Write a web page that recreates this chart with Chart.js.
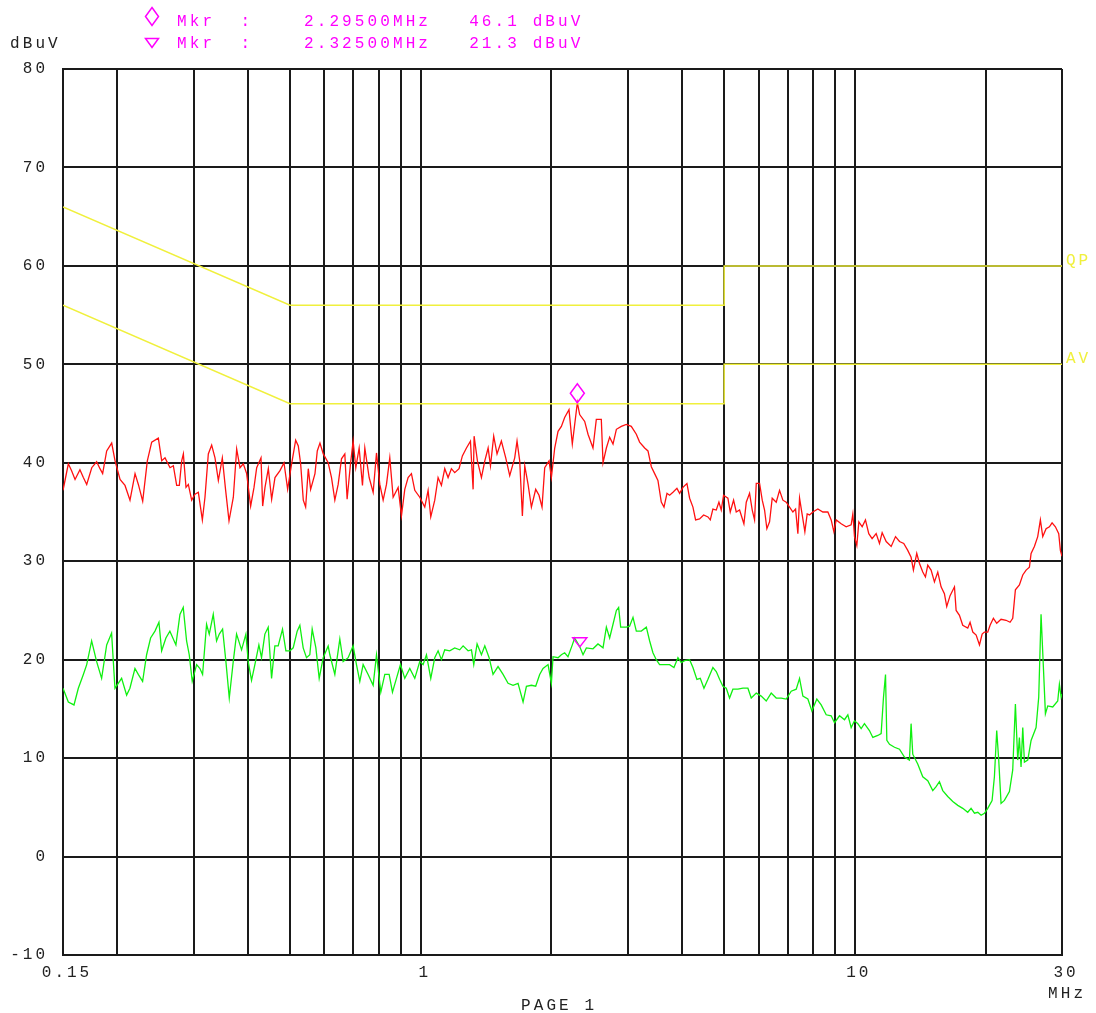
<!DOCTYPE html>
<html>
<head>
<meta charset="utf-8">
<script src="https://cdn.jsdelivr.net/npm/chart.js@4.4.1/dist/chart.umd.min.js"></script>
<style>
html, body { margin: 0; padding: 0; background: #fff; }
#wrap { position: relative; width: 1096px; height: 1013px; overflow: hidden; }
#chart { position: absolute; left: 0; top: 0; }
.txt { position: absolute; font-family: "Liberation Mono", monospace; font-size: 16px; letter-spacing: 3.1px; white-space: pre; line-height: 1; }
.mag { color: #ff00ff; }
.gry { color: #222; }
svg.sym { position: absolute; overflow: visible; }
</style>
</head>
<body>
<div id="wrap">
  <canvas id="chart" width="1096" height="1013"></canvas>
  <svg class="sym" style="left:145px;top:7px" width="14" height="19"><polygon points="7,0.5 13.5,9.5 7,18.5 0.5,9.5" fill="none" stroke="#ff00ff" stroke-width="1.5"/></svg>
  <svg class="sym" style="left:145px;top:38px" width="14" height="10"><polygon points="0.5,0.5 13.5,0.5 7,9.5" fill="none" stroke="#ff00ff" stroke-width="1.5"/></svg>
  <div class="txt mag" id="mkr0" style="left:177px;top:14px"></div>
  <div class="txt mag" id="mkr1" style="left:177px;top:36px"></div>
  <div class="txt gry" style="left:10px;top:36px">dBuV</div>
  <div class="txt gry" style="left:1048px;top:986px">MHz</div>
  <div class="txt gry" style="left:521px;top:998px">PAGE 1</div>
</div>
<script>
// scan, peak detector (MHz / dBuV)
const redFreq = [0.15, 0.1516, 0.1543, 0.157, 0.1599, 0.1641, 0.1671, 0.1701, 0.1747, 0.1793, 0.1825, 0.1851, 0.1891, 0.1942, 0.1977,
  0.203, 0.2084, 0.214, 0.2198, 0.2237, 0.2289, 0.2346, 0.2401, 0.2487, 0.2532, 0.2577, 0.2646, 0.2693, 0.2741, 0.278, 0.2815, 0.284,
  0.288, 0.2916, 0.2968, 0.3021, 0.3075, 0.3141, 0.3185, 0.3242, 0.33, 0.3359, 0.3419, 0.3492, 0.3554, 0.3618, 0.3702, 0.3768, 0.3835,
  0.3903, 0.3973, 0.4058, 0.4131, 0.419, 0.4287, 0.4325, 0.4379, 0.4457, 0.4536, 0.4617, 0.4741, 0.4843, 0.4938, 0.5026, 0.5152, 0.5225,
  0.529, 0.5365, 0.5432, 0.5509, 0.5578, 0.5708, 0.5778, 0.5861, 0.5965, 0.6122, 0.6231, 0.6342, 0.6455, 0.657, 0.6687, 0.6769, 0.6891,
  0.6988, 0.7088, 0.7215, 0.7343, 0.7435, 0.7608, 0.7771, 0.791, 0.805, 0.8194, 0.834, 0.8488, 0.864, 0.8872, 0.9029, 0.919, 0.9354,
  0.952, 0.9691, 0.995, 1.0218, 1.04, 1.0548, 1.0774, 1.0966, 1.1161, 1.136, 1.1563, 1.1768, 1.1977, 1.2255, 1.2473, 1.2746, 1.3019,
  1.3204, 1.3274, 1.351, 1.38, 1.4049, 1.4299, 1.4477, 1.4728, 1.499, 1.5339, 1.5699, 1.6034, 1.6464, 1.6668, 1.6906, 1.7147, 1.7364,
  1.7673, 1.7987, 1.8402, 1.8729, 1.903, 1.9304, 1.9753, 1.9998, 2.0355, 2.0718, 2.1087, 2.1457, 2.1956, 2.2347, 2.295, 2.3236, 2.3863,
  2.4288, 2.4935, 2.538, 2.606, 2.63, 2.677, 2.724, 2.773, 2.823, 2.898, 2.975, 3.055, 3.138, 3.193, 3.28, 3.338, 3.398, 3.458, 3.519,
  3.582, 3.634, 3.692, 3.744, 3.811, 3.892, 3.948, 4.018, 4.104, 4.163, 4.237, 4.297, 4.389, 4.484, 4.588, 4.645, 4.71, 4.795, 4.863,
  4.923, 4.984, 5.1, 5.164, 5.256, 5.331, 5.426, 5.552, 5.622, 5.721, 5.803, 5.875, 5.928, 6.033, 6.119, 6.195, 6.271, 6.361, 6.451,
  6.59, 6.707, 6.827, 6.949, 7.073, 7.199, 7.302, 7.392, 7.458, 7.564, 7.671, 7.766, 7.863, 8.003, 8.218, 8.439, 8.666, 8.82, 8.946,
  9.058, 9.3, 9.55, 9.806, 9.894, 9.982, 10.105, 10.214, 10.395, 10.578, 10.766, 10.958, 11.196, 11.395, 11.558, 11.808, 12.124, 12.407,
  12.672, 12.961, 13.239, 13.475, 13.642, 13.885, 14.083, 14.336, 14.54, 14.721, 14.983, 15.251, 15.523, 15.799, 16.08, 16.279, 16.57,
  16.96, 17.111, 17.414, 17.722, 18.198, 18.424, 18.694, 19.028, 19.365, 19.642, 19.88, 20.235, 20.486, 20.85, 21.221, 21.715, 22.301,
  22.778, 23.101, 23.431, 23.932, 24.364, 24.799, 25.239, 25.463, 25.914, 26.376, 26.75, 27.089, 27.573, 28.062, 28.462, 28.969, 29.485,
  29.744, 30];
const redLevel = [37.2, 38.2, 39.9, 39.2, 38.3, 39.3, 38.5, 37.8, 39.5, 40.1, 39.4, 38.9, 41.2, 42.0, 40.2,
  38.3, 37.7, 36.2, 38.9, 37.8, 36.1, 40.2, 42.1, 42.5, 40.2, 40.5, 39.5, 39.7, 37.7, 37.7, 40.2, 40.9,
  37.5, 37.8, 36.2, 36.8, 37.0, 34.2, 36.5, 40.9, 41.8, 40.5, 38.2, 40.5, 37.2, 34.1, 36.5, 41.4, 39.5,
  39.9, 38.9, 35.6, 37.5, 39.5, 40.5, 35.6, 37.5, 39.4, 36.3, 38.5, 39.2, 40.0, 37.3, 39.5, 42.3, 41.7,
  39.9, 36.2, 35.5, 39.4, 37.3, 38.9, 41.2, 42.0, 40.9, 40.0, 38.5, 36.2, 37.8, 40.4, 40.9, 36.3, 39.9,
  42.2, 39.5, 41.5, 37.7, 41.5, 38.5, 37.0, 41.0, 37.8, 36.2, 37.8, 40.5, 36.5, 37.5, 34.6, 37.3, 38.5,
  38.9, 37.2, 36.5, 35.5, 37.2, 34.5, 36.2, 38.5, 37.7, 39.4, 38.5, 39.4, 39.0, 39.4, 40.7, 41.5, 42.2,
  37.3, 42.7, 40.2, 38.5, 40.2, 41.5, 39.7, 42.7, 40.9, 42.2, 40.5, 38.7, 40.5, 42.2, 40.2, 34.6, 39.7,
  37.8, 35.5, 37.3, 36.7, 35.5, 39.5, 40.2, 38.5, 41.5, 43.2, 43.7, 44.6, 45.4, 41.9, 46.1, 44.9, 44.2,
  42.9, 41.5, 44.4, 44.4, 40.0, 41.5, 42.6, 41.9, 43.4, 43.7, 43.9, 43.7, 42.9, 42.1, 41.5, 41.2, 39.6, 38.9, 38.2,
  36.0, 35.5, 36.9, 36.7, 37.0, 37.4, 36.9, 37.5, 37.9, 36.4, 35.5, 34.2, 34.3, 34.7, 34.5, 34.2, 35.3, 35.2, 36.0,
  35.2, 36.7, 36.4, 35.0, 36.2, 35.0, 35.2, 33.8, 36.0, 36.9, 35.2, 34.2, 37.9, 37.9, 36.2, 35.2, 33.3, 34.0, 36.4,
  36.0, 37.2, 36.2, 36.0, 35.5, 35.0, 35.3, 32.8, 36.4, 34.7, 33.0, 34.8, 34.7, 35.0, 35.3, 35.0, 35.0, 34.2, 33.0,
  34.2, 33.8, 33.5, 33.7, 34.8, 32.5, 31.6, 34.0, 33.5, 34.2, 32.8, 32.3, 32.8, 31.8, 32.9, 32.0, 31.5, 32.5,
  32.0, 31.8, 31.1, 30.4, 29.1, 30.8, 29.8, 28.9, 28.4, 29.6, 29.1, 27.9, 28.9, 27.4, 26.7, 25.4, 26.5,
  27.4, 25.0, 24.5, 23.5, 23.2, 23.8, 22.8, 22.5, 21.5, 22.6, 22.8, 22.8, 23.5, 24.2, 23.7, 24.1, 24.0,
  23.8, 24.2, 27.1, 27.6, 28.6, 29.1, 29.4, 30.8, 31.5, 32.5, 34.2, 32.5, 33.3, 33.5, 33.9, 33.5, 32.8,
  31.1, 30.5];

// scan, average detector
const greenFreq = [0.15, 0.1543, 0.159, 0.1627, 0.1671, 0.1701, 0.1746, 0.1793, 0.1841, 0.1891, 0.1941, 0.1976, 0.2047, 0.2102, 0.2139,
  0.2197, 0.2236, 0.2288, 0.2337, 0.2387, 0.2443, 0.2495, 0.2531, 0.2589, 0.2644, 0.273, 0.2789, 0.2838, 0.2889, 0.293, 0.2977, 0.3047,
  0.3101, 0.3145, 0.3212, 0.3258, 0.3328, 0.3387, 0.3436, 0.3497, 0.3559, 0.3623, 0.37, 0.3766, 0.3867, 0.3957, 0.4006, 0.4077, 0.415,
  0.4239, 0.4299, 0.4376, 0.4454, 0.4534, 0.4614, 0.4696, 0.4805, 0.4892, 0.4996, 0.5085, 0.5194, 0.5268, 0.5362, 0.5457, 0.5554, 0.5624,
  0.5735, 0.5837, 0.5962, 0.6122, 0.6176, 0.6342, 0.6512, 0.6628, 0.6806, 0.6988, 0.7113, 0.724, 0.7369, 0.7567, 0.7771, 0.791, 0.8093,
  0.8267, 0.8459, 0.8609, 0.8794, 0.8982, 0.919, 0.9437, 0.9691, 0.995, 1.0128, 1.0309, 1.0548, 1.0774, 1.0966, 1.1161, 1.136, 1.1665,
  1.1977, 1.2298, 1.2522, 1.2859, 1.3088, 1.325, 1.3486, 1.38, 1.4049, 1.4375, 1.4676, 1.507, 1.5478, 1.5893, 1.6319, 1.6758, 1.7211,
  1.7518, 1.7987, 1.8402, 1.8795, 1.9134, 1.9648, 1.9998, 2.0176, 2.0718, 2.1087, 2.1457, 2.1839, 2.2347, 2.263, 2.325, 2.3653, 2.4075,
  2.4935, 2.5604, 2.63, 2.677, 2.724, 2.773, 2.823, 2.857, 2.888, 2.975, 3.028, 3.083, 3.138, 3.222, 3.309, 3.368, 3.427, 3.488, 3.55,
  3.647, 3.744, 3.831, 3.913, 3.983, 4.054, 4.163, 4.237, 4.327, 4.405, 4.492, 4.588, 4.71, 4.795, 4.88, 4.967, 5.056, 5.145, 5.237,
  5.378, 5.523, 5.671, 5.772, 5.928, 6.086, 6.25, 6.417, 6.59, 6.767, 6.949, 7.135, 7.328, 7.458, 7.591, 7.794, 7.962, 8.174, 8.365,
  8.59, 8.82, 8.978, 9.219, 9.466, 9.635, 9.806, 9.982, 10.159, 10.34, 10.521, 10.803, 11.0, 11.295, 11.496, 11.641, 11.766, 11.849,
  12.018, 12.341, 12.672, 13.008, 13.356, 13.475, 13.594, 13.959, 14.336, 14.721, 15.117, 15.387, 15.66, 15.939, 16.367, 16.81, 17.262,
  17.722, 18.198, 18.521, 18.86, 19.196, 19.537, 19.88, 20.235, 20.705, 20.962, 21.221, 21.449, 21.715, 22.104, 22.697, 23.101, 23.431,
  23.722, 23.932, 24.144, 24.364, 24.58, 25.018, 25.463, 26.145, 26.517, 26.845, 27.183, 27.475, 27.816, 28.561, 29.328, 29.588, 29.86, 30];
const greenLevel = [17.1, 15.7, 15.4, 17.1, 18.5, 19.5, 21.9, 19.8, 18.1, 21.5, 22.7, 17.1, 18.1, 16.4, 17.1,
  19.1, 18.5, 17.8, 20.5, 22.2, 22.9, 23.8, 20.9, 22.2, 22.9, 21.5, 24.6, 25.3, 21.9, 20.5, 17.8, 19.5,
  19.1, 18.5, 23.6, 22.6, 24.6, 21.9, 22.6, 23.1, 19.8, 16.1, 19.8, 22.6, 21.0, 22.6, 19.8, 17.9, 19.5,
  21.5, 20.2, 22.6, 23.3, 18.1, 21.4, 21.4, 23.1, 20.9, 20.9, 21.2, 22.9, 23.5, 21.2, 20.2, 20.5, 23.1,
  21.2, 18.1, 20.2, 21.4, 20.5, 18.5, 22.1, 19.8, 20.2, 21.4, 19.5, 17.8, 19.5, 18.5, 17.4, 20.5, 16.7,
  18.5, 18.5, 16.7, 18.1, 19.5, 18.1, 19.1, 18.1, 19.8, 19.5, 20.5, 18.1, 20.2, 20.9, 20.0, 21.0, 20.9,
  21.2, 21.0, 21.4, 20.9, 21.0, 19.5, 21.6, 20.5, 21.4, 20.2, 18.5, 19.3, 18.5, 17.6, 17.4, 17.6, 15.7,
  17.3, 17.4, 17.3, 18.5, 19.1, 19.5, 17.6, 20.3, 20.2, 20.5, 20.7, 20.3, 21.5, 22.2, 21.3, 20.5, 21.2,
  21.1, 21.6, 21.2, 23.3, 22.2, 23.6, 25.0, 25.3, 23.3, 23.3, 23.4, 24.3, 22.9, 22.9, 23.3, 21.9, 20.7, 20.0, 19.5,
  19.5, 19.5, 19.2, 20.2, 19.7, 19.9, 20.0, 19.2, 18.0, 18.1, 17.1, 18.0, 19.2, 18.8, 18.0, 17.3, 17.1, 16.1, 17.0,
  17.0, 17.1, 17.1, 16.1, 16.6, 16.3, 15.8, 16.6, 16.1, 16.1, 16.0, 16.8, 17.0, 18.1, 16.3, 16.0, 14.8, 16.0, 15.4,
  14.4, 14.3, 13.6, 14.3, 13.9, 14.4, 13.1, 13.8, 13.5, 13.0, 13.5, 12.8, 12.1, 12.3, 12.5, 16.2, 18.5, 11.8,
  11.4, 11.1, 10.9, 10.1, 9.8, 13.5, 10.4, 9.4, 8.1, 7.7, 6.7, 7.1, 7.6, 6.7, 6.1, 5.6, 5.2,
  4.9, 4.5, 4.9, 4.4, 4.5, 4.2, 4.4, 4.9, 5.7, 8.1, 12.8, 9.8, 5.4, 5.7, 6.6, 8.8, 15.5,
  9.8, 12.1, 9.1, 13.1, 9.6, 9.8, 11.8, 13.1, 16.2, 24.6, 19.2, 14.5, 15.3, 15.2, 15.8, 17.5, 16.2, 16.5];

// limit lines
const qpFreq = [0.15, 0.5, 5, 5, 30];
const qpLevel = [66, 56, 56, 60, 60];
const avFreq = [0.15, 0.5, 5, 5, 30];
const avLevel = [56, 46, 46, 50, 50];
const limitNames = ['QP', 'AV'];

// markers
const mkrFreq = [2.295, 2.325];
const mkrLevel = [46.1, 21.3];
const mkrShape = ['diamond', 'triangle'];

// axes
const xGridTicks = [0.15, 0.2, 0.3, 0.4, 0.5, 0.6, 0.7, 0.8, 0.9, 1, 2, 3, 4, 5, 6, 7, 8, 9, 10, 20, 30];
const xLabelTicks = [0.15, 1, 10, 30];

const YELLOW = '#f0f03c';
const MONO = '"Liberation Mono", monospace';

const toXY = (xs, ys) => xs.map((v, i) => ({ x: v, y: ys[i] }));

mkrFreq.forEach((f, i) => {
    document.getElementById('mkr' + i).textContent =
        'Mkr  :    ' + f.toFixed(5) + 'MHz   ' + mkrLevel[i].toFixed(1) + ' dBuV';
});

const overlay = {
    id: 'overlay',
    beforeDraw(chart) {
        // plotter font is widely spaced
        chart.ctx.letterSpacing = '3px';
    },
    afterDatasetsDraw(chart) {
        const { ctx, chartArea } = chart;
        const xs = chart.scales.x, ys = chart.scales.y;
        ctx.save();
        // marker symbols sit on top of the trace point
        ctx.strokeStyle = '#ff00ff';
        ctx.lineWidth = 1.5;
        mkrFreq.forEach((f, i) => {
            const px = xs.getPixelForValue(f);
            const py = ys.getPixelForValue(mkrLevel[i]);
            ctx.beginPath();
            if (mkrShape[i] === 'diamond') {
                ctx.moveTo(px, py);
                ctx.lineTo(px - 7, py - 9.5);
                ctx.lineTo(px, py - 19);
                ctx.lineTo(px + 7, py - 9.5);
            } else {
                ctx.moveTo(px, py);
                ctx.lineTo(px - 7, py - 9);
                ctx.lineTo(px + 7, py - 9);
            }
            ctx.closePath();
            ctx.stroke();
        });
        // limit names at right end
        ctx.fillStyle = YELLOW;
        ctx.font = '16px ' + MONO;
        ctx.textAlign = 'left';
        ctx.textBaseline = 'alphabetic';
        const ends = [qpLevel[qpLevel.length - 1], avLevel[avLevel.length - 1]];
        limitNames.forEach((name, i) => {
            const py = ys.getPixelForValue(ends[i]);
            ctx.fillText(name, chartArea.right + 4, py - 1);
        });
        ctx.restore();
    },
    afterDraw(chart) {
        chart.ctx.letterSpacing = '0px';
    }
};

new Chart(document.getElementById('chart'), {
    type: 'line',
    data: {
        datasets: [
            { label: 'QP', data: toXY(qpFreq, qpLevel), borderColor: YELLOW, borderWidth: 1.5, pointRadius: 0 },
            { label: 'AV', data: toXY(avFreq, avLevel), borderColor: YELLOW, borderWidth: 1.5, pointRadius: 0 },
            { label: 'Peak', data: toXY(redFreq, redLevel), borderColor: '#ff1010', borderWidth: 1.3, pointRadius: 0 },
            { label: 'Average', data: toXY(greenFreq, greenLevel), borderColor: '#10f010', borderWidth: 1.3, pointRadius: 0 }
        ]
    },
    options: {
        responsive: false,
        animation: false,
        events: [],
        layout: { padding: { top: 69, right: 34, left: 0, bottom: 0 } },
        plugins: { legend: { display: false }, tooltip: { enabled: false } },
        scales: {
            x: {
                type: 'logarithmic',
                min: 0.15,
                max: 30,
                afterBuildTicks(scale) {
                    scale.ticks = xGridTicks.map(v => ({ value: v }));
                },
                afterFit(scale) { scale.height = 58; },
                grid: { color: '#1a1a1a', lineWidth: 2, drawTicks: false },
                border: { color: '#1a1a1a', width: 2 },
                ticks: {
                    autoSkip: false,
                    maxRotation: 0,
                    padding: 8,
                    labelOffset: 4,
                    color: '#222',
                    font: { family: MONO, size: 16 },
                    callback(v) { return xLabelTicks.includes(v) ? String(v) : ''; }
                }
            },
            y: {
                min: -10,
                max: 80,
                afterFit(scale) { scale.width = 63; },
                grid: { color: '#1a1a1a', lineWidth: 2, drawTicks: false },
                border: { color: '#1a1a1a', width: 2 },
                ticks: {
                    stepSize: 10,
                    padding: 15,
                    color: '#222',
                    font: { family: MONO, size: 16 }
                }
            }
        }
    },
    plugins: [overlay]
});
</script>
</body>
</html>
